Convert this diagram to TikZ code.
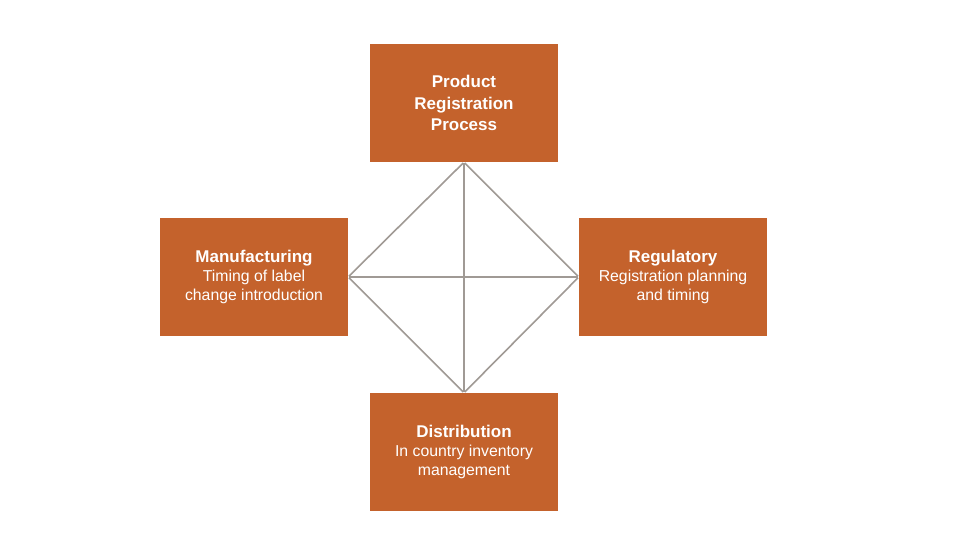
\documentclass[tikz,border=0pt]{standalone}
\usepackage{fontspec}
\setmainfont{Liberation Sans}
\definecolor{boxorange}{HTML}{C4622C}
\definecolor{linegray}{HTML}{A09A95}
\begin{document}
\begin{tikzpicture}[x=1pt,y=1pt,
  card/.style={fill=boxorange, draw=none, minimum width=188pt, minimum height=118pt,
    inner sep=0pt, text=white, align=center, font=\fontsize{15.8}{19}\selectfont},
  bigcard/.style={card, font=\fontsize{17}{21.5}\selectfont\bfseries},
  link/.style={draw=linegray, line width=1.6pt, shorten <=1pt, shorten >=1pt}]
\useasboundingbox[fill=white] (0,0) rectangle (970,556);
\node[bigcard] (top) at (464,453) {Product\\Registration\\Process};
\node[card] (left) at (254,279) {{\bfseries\fontsize{17}{20}\selectfont Manufacturing}\\Timing of label\\change introduction};
\node[card] (right) at (673,279) {{\bfseries\fontsize{17}{20}\selectfont Regulatory}\\Registration planning\\and timing};
\node[card] (bottom) at (464,104) {{\bfseries\fontsize{17}{20}\selectfont Distribution}\\In country inventory\\management};
\draw[link] (top.south) -- (left.east);
\draw[link] (top.south) -- (right.west);
\draw[link] (bottom.north) -- (left.east);
\draw[link] (bottom.north) -- (right.west);
\draw[link] (top.south) -- (bottom.north);
\draw[link] (left.east) -- (right.west);
\end{tikzpicture}
\end{document}
